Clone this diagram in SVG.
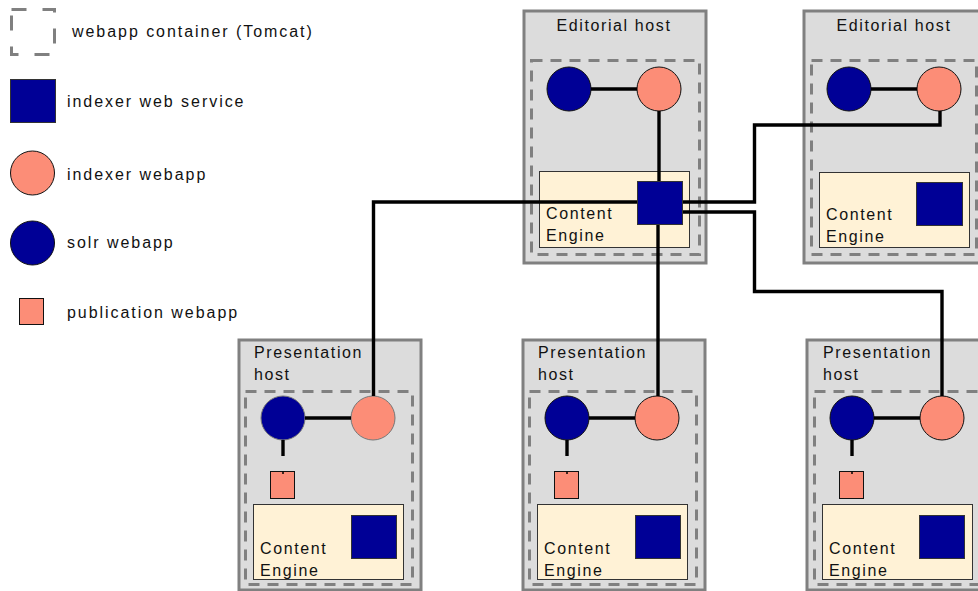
<svg xmlns="http://www.w3.org/2000/svg" width="978" height="591" viewBox="0 0 978 591">
<style>
.host{fill:#dcdcdc;stroke:#808080;stroke-width:3}
.cont{fill:none;stroke:#808080;stroke-width:3;stroke-dasharray:11 8}
.ce{fill:#fff2d6;stroke:#333;stroke-width:1}
.svc{fill:#000096;stroke:#333;stroke-width:1}
.solr{fill:#000096;stroke:#111;stroke-width:1}
.idx{fill:#fc8d77;stroke:#111;stroke-width:1}
.pub{fill:#fc8d77;stroke:#111;stroke-width:1}
.gs{stroke:#777}
text{font-family:"Liberation Sans",Arial,sans-serif;font-size:16px;letter-spacing:1.6px;fill:#111}
.lg{letter-spacing:1.95px}
.ln{fill:none;stroke:#000;stroke-width:3.4}
</style>
<rect width="978" height="591" fill="#fff"/>
<g id="legend">
<rect x="11.5" y="9.5" width="43" height="45" fill="none" stroke="#808080" stroke-width="3" stroke-dasharray="15 16"/>
<text class="lg" x="72" y="37">webapp container (Tomcat)</text>
<rect x="10.5" y="79.5" width="45" height="43" class="svc"/>
<text class="lg" x="67" y="107">indexer web service</text>
<circle cx="32.5" cy="173" r="22" class="idx"/>
<text class="lg" x="67" y="180">indexer webapp</text>
<circle cx="32.5" cy="243" r="22" class="solr"/>
<text class="lg" x="67" y="248">solr webapp</text>
<rect x="19.5" y="298.5" width="24" height="26" class="pub"/>
<text class="lg" x="67" y="318">publication webapp</text>
</g>
<g id="editorial1">
<rect x="524" y="11" width="182" height="252" class="host"/>
<rect x="531.5" y="60.5" width="168" height="194" class="cont"/>
<text x="614" y="31" text-anchor="middle">Editorial host</text>
<circle cx="569" cy="89" r="22" class="solr"/>
<circle cx="659" cy="89" r="22" class="idx"/>
<rect x="539.5" y="171.5" width="150" height="76" class="ce"/>
<text x="546" y="219">Content</text>
<text x="546" y="241">Engine</text>
</g>
<g id="editorial2">
<rect x="804" y="11" width="182" height="252" class="host"/>
<rect x="811.5" y="60.5" width="165" height="194" class="cont"/>
<text x="894" y="31" text-anchor="middle">Editorial host</text>
<circle cx="849" cy="89" r="22" class="solr"/>
<circle cx="939" cy="89" r="22" class="idx"/>
<rect x="819.5" y="172.5" width="150" height="75" class="ce"/>
<rect x="916.5" y="182.5" width="46" height="43" class="svc"/>
<text x="826" y="220">Content</text>
<text x="826" y="242">Engine</text>
</g>
<g id="presentation1">
<rect x="239" y="340" width="182" height="250" class="host"/>
<rect x="245.5" y="391.5" width="167" height="193" class="cont"/>
<text x="254" y="358">Presentation</text>
<text x="254" y="380">host</text>
<circle cx="283" cy="418" r="22" class="solr gs"/>
<circle cx="373" cy="418" r="22" class="idx gs"/>
<rect x="270.5" y="471.5" width="24" height="27" class="pub"/>
<rect x="253.5" y="504.5" width="150" height="75" class="ce"/>
<rect x="351.5" y="515.5" width="45" height="43" class="svc"/>
<text x="260" y="554">Content</text>
<text x="260" y="576">Engine</text>
</g>
<g id="presentation2">
<rect x="523" y="340" width="182" height="250" class="host"/>
<rect x="529.5" y="391.5" width="167" height="193" class="cont"/>
<text x="538" y="358">Presentation</text>
<text x="538" y="380">host</text>
<circle cx="567" cy="418" r="22" class="solr"/>
<circle cx="657" cy="418" r="22" class="idx"/>
<rect x="554.5" y="471.5" width="24" height="27" class="pub"/>
<rect x="537.5" y="504.5" width="150" height="75" class="ce"/>
<rect x="635.5" y="515.5" width="45" height="43" class="svc"/>
<text x="544" y="554">Content</text>
<text x="544" y="576">Engine</text>
</g>
<g id="presentation3">
<rect x="807" y="340" width="182" height="250" class="host"/>
<rect x="814.5" y="391.5" width="167" height="193" class="cont"/>
<text x="823" y="358">Presentation</text>
<text x="823" y="380">host</text>
<circle cx="852" cy="418" r="22" class="solr"/>
<circle cx="942" cy="418" r="22" class="idx"/>
<rect x="839.5" y="471.5" width="24" height="27" class="pub"/>
<rect x="822.5" y="504.5" width="150" height="75" class="ce"/>
<rect x="919.5" y="515.5" width="45" height="43" class="svc"/>
<text x="829" y="554">Content</text>
<text x="829" y="576">Engine</text>
</g>
<g id="connectors">
<path class="ln" d="M591,89H637"/>
<path class="ln" d="M871,89H917"/>
<path class="ln" d="M659,111V181"/>
<path class="ln" d="M637,202H373.5V396"/>
<path class="ln" d="M682,202H754.5V125H940V111"/>
<path class="ln" d="M682,212H754.5V291.5H942V396"/>
<path class="ln" d="M658,224V396"/>
<path class="ln" d="M305,418H351"/>
<path class="ln" d="M589,418H635"/>
<path class="ln" d="M874,418H920"/>
<path class="ln" d="M283,440V456"/>
<path class="ln" d="M567,440V456"/>
<path class="ln" d="M852,440V456"/>
<path d="M283,471.5V474M567,471.5V474M852,471.5V474" stroke="#000" stroke-width="1.5"/>
</g>
<g id="editorial1-service">
<rect x="637.5" y="181.5" width="45" height="43" class="svc"/>
</g>
</svg>
